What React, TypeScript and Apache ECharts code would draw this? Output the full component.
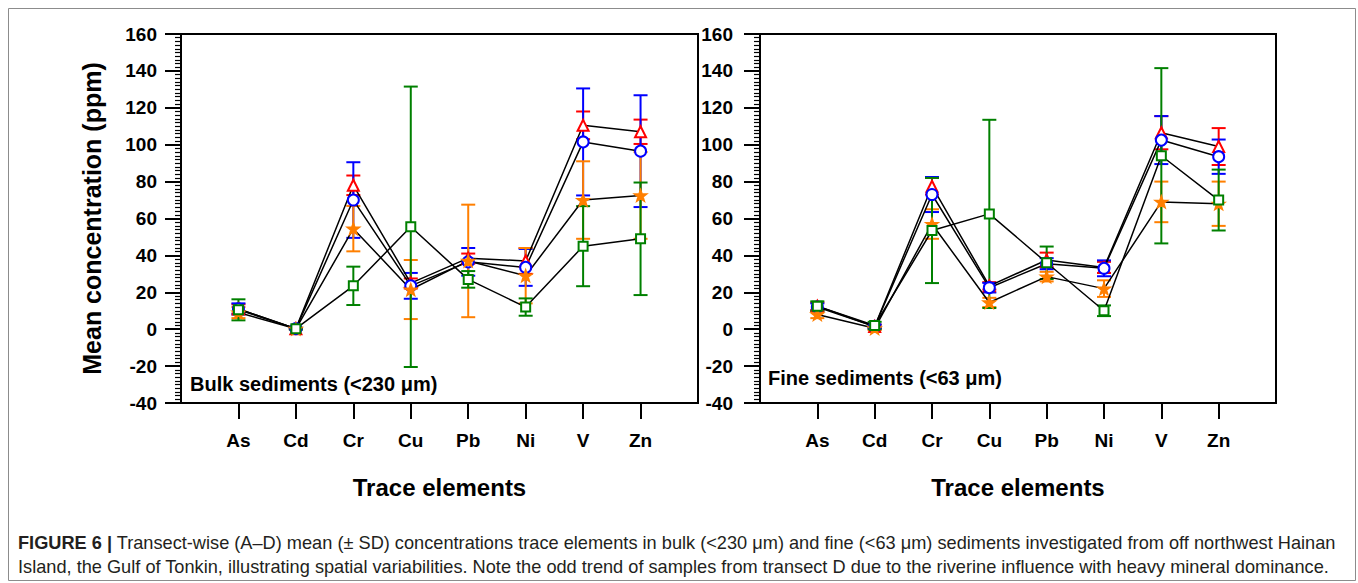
import React, { useEffect, useRef } from "react";
import * as echarts from "echarts";

// Trace elements on the x axis
const elements = ["As", "Cd", "Cr", "Cu", "Pb", "Ni", "V", "Zn"];
const yTicks = { min: -40, max: 160, step: 20 };

// Bulk sediments (<230 µm): mean and SD per transect (ppm)
const bulkMeanA = [11, 0.3, 78, 25, 38.5, 37, 110.5, 107];
const bulkSdA = [2.5, 0.3, 5.3, 2.5, 2.5, 7, 7.5, 6.6];
const bulkMeanB = [11, 0.3, 70, 23.5, 36.5, 33.5, 101.5, 96.5];
const bulkSdB = [3, 0.3, 20.5, 7, 7.5, 10, 29, 30.3];
const bulkMeanC = [9, 0.2, 54.5, 21.5, 37, 29, 70, 72.5];
const bulkSdC = [3, 0.3, 12.3, 16, 30.5, 15, 21, 23.5];
const bulkMeanD = [10.5, 0.3, 23.5, 55.5, 27, 12, 45, 49];
const bulkSdD = [5.7, 0.5, 10.4, 76, 4.5, 4.7, 21.7, 30.5];

// Fine sediments (<63 µm): mean and SD per transect (ppm)
const fineMeanA = [12.5, 1.5, 77.5, 23.5, 37.5, 33.5, 106.5, 99];
const fineSdA = [2, 1, 4.5, 2, 4, 3, 9, 10];
const fineMeanB = [12, 1.5, 73, 22.5, 35.5, 33, 102.5, 93.5];
const fineSdB = [2, 1, 9.5, 2.6, 3, 4.3, 13, 9.3];
const fineMeanC = [8, 0.5, 57, 14.5, 28.5, 22, 69, 68];
const fineSdC = [2, 1, 8, 2.5, 2.6, 4.5, 11, 12];
const fineMeanD = [12.5, 2, 53.5, 62.5, 36, 10, 94, 70];
const fineSdD = [2.6, 2, 28.5, 51, 8.8, 2.9, 47.5, 16.5];

const STAR =
  "path://M0,-10L2.35,-3.24L9.51,-3.09L3.8,1.24L5.88,8.09L0,4.2L-5.88,8.09L-3.8,1.24L-9.51,-3.09L-2.35,-3.24Z";

const transects = [
  { key: "A", color: "#FF0000", symbol: "emptyTriangle", size: 11 },
  { key: "B", color: "#0000FF", symbol: "emptyCircle", size: 11 },
  { key: "C", color: "#FF7F00", symbol: STAR, size: 12 },
  { key: "D", color: "#008000", symbol: "emptyRect", size: 9 },
];

const panels = [
  {
    label: "Bulk sediments (<230 μm)",
    means: [bulkMeanA, bulkMeanB, bulkMeanC, bulkMeanD],
    sds: [bulkSdA, bulkSdB, bulkSdC, bulkSdD],
  },
  {
    label: "Fine sediments (<63 μm)",
    means: [fineMeanA, fineMeanB, fineMeanC, fineMeanD],
    sds: [fineSdA, fineSdB, fineSdC, fineSdD],
  },
];

const FONT = "'Liberation Sans', Arial, Helvetica, sans-serif";
const positions = elements.map((_, i) => i + 1);

function errorBarRenderer(color: string) {
  return (params: any, api: any) => {
    const x = api.value(0);
    const lo = api.coord([x, api.value(1)]);
    const hi = api.coord([x, api.value(2)]);
    const hw = 7;
    const style = { stroke: color, lineWidth: 2 };
    return {
      type: "group",
      children: [
        { type: "line", shape: { x1: hi[0], y1: hi[1], x2: lo[0], y2: lo[1] }, style },
        { type: "line", shape: { x1: hi[0] - hw, y1: hi[1], x2: hi[0] + hw, y2: hi[1] }, style },
        { type: "line", shape: { x1: lo[0] - hw, y1: lo[1], x2: lo[0] + hw, y2: lo[1] }, style },
      ],
    };
  };
}

export default function App() {
  const ref = useRef<HTMLDivElement>(null);

  useEffect(() => {
    if (!ref.current) return;
    const chart = echarts.init(ref.current, null, { renderer: "svg" });

    const grids = [
      { left: 181, top: 34, width: 517, height: 369 },
      { left: 760, top: 34, width: 516, height: 369 },
    ].map((g) => ({ ...g, show: true, borderColor: "#000", borderWidth: 2, backgroundColor: "transparent" }));

    const xAxes = grids.map((_, gi) => ({
      type: "value",
      gridIndex: gi,
      min: 0,
      max: elements.length + 1,
      axisLine: { show: true, onZero: false, lineStyle: { color: "#000", width: 2 } },
      axisTick: { show: true, customValues: positions, length: 16, lineStyle: { color: "#000", width: 2 } },
      axisLabel: {
        customValues: positions,
        formatter: (v: number) => elements[Math.round(v) - 1] ?? "",
        margin: 28,
        fontFamily: FONT,
        fontWeight: "bold",
        fontSize: 19,
        color: "#000",
      },
      splitLine: { show: false },
      name: "Trace elements",
      nameLocation: "middle",
      nameGap: 72,
      nameTextStyle: { fontFamily: FONT, fontWeight: "bold", fontSize: 24, color: "#000" },
    }));

    const yAxes = grids.map((_, gi) => ({
      type: "value",
      gridIndex: gi,
      min: yTicks.min,
      max: yTicks.max,
      interval: yTicks.step,
      axisLine: { show: true, onZero: false, lineStyle: { color: "#000", width: 2 } },
      axisTick: { show: true, length: 16, lineStyle: { color: "#000", width: 2 } },
      minorTick: { show: true, splitNumber: 10, length: 6, lineStyle: { color: "#000", width: 1.2 } },
      axisLabel: {
        margin: gi === 0 ? 24 : 27,
        fontFamily: FONT,
        fontWeight: "bold",
        fontSize: 19,
        color: "#000",
      },
      splitLine: { show: false },
      minorSplitLine: { show: false },
      name: gi === 0 ? "Mean concentration (ppm)" : "",
      nameLocation: "middle",
      nameGap: 77,
      nameTextStyle: { fontFamily: FONT, fontWeight: "bold", fontSize: 25, color: "#000" },
    }));

    const series: any[] = [];
    panels.forEach((panel, pi) => {
      transects.forEach((t, ti) => {
        const means = panel.means[ti];
        const sds = panel.sds[ti];
        series.push({
          type: "custom",
          name: `${panel.label} ${t.key} SD`,
          xAxisIndex: pi,
          yAxisIndex: pi,
          z: 1,
          renderItem: errorBarRenderer(t.color),
          encode: { x: 0, y: [1, 2] },
          data: means.map((m, i) => [i + 1, m - sds[i], m + sds[i]]),
        });
      });
      transects.forEach((t, ti) => {
        const means = panel.means[ti];
        series.push({
          type: "line",
          name: `${panel.label} ${t.key}`,
          xAxisIndex: pi,
          yAxisIndex: pi,
          z: 3,
          symbol: t.symbol,
          symbolSize: t.size,
          symbolKeepAspect: true,
          showAllSymbol: true,
          lineStyle: { color: "#000", width: 1.5 },
          itemStyle: { color: t.color, borderColor: t.color, borderWidth: 1.6 },
          emphasis: { disabled: true },
          data: means.map((m, i) => [i + 1, m]),
        });
      });
    });

    const caption1 =
      "{b|FIGURE 6 |} Transect-wise (A–D) mean (± SD) concentrations trace elements in bulk (<230 μm) and fine (<63 μm) sediments investigated from off northwest Hainan";
    const caption2 =
      "Island, the Gulf of Tonkin, illustrating spatial variabilities. Note the odd trend of samples from transect D due to the riverine influence with heavy mineral dominance.";
    const CAPTION_SIZE = 18.2;

    chart.setOption({
      animation: false,
      backgroundColor: "#fff",
      grid: grids,
      xAxis: xAxes,
      yAxis: yAxes,
      series,
      graphic: [
        {
          type: "rect",
          z: -10,
          shape: { x: 8.5, y: 8.5, width: 1347, height: 572 },
          style: { fill: "none", stroke: "#8c8c8c", lineWidth: 1 },
        },
        {
          type: "text",
          x: 190,
          y: 384,
          style: {
            text: panels[0].label,
            fontFamily: FONT,
            fontWeight: "bold",
            fontSize: 20,
            fill: "#000",
            verticalAlign: "middle",
          },
        },
        {
          type: "text",
          x: 768,
          y: 378,
          style: {
            text: panels[1].label,
            fontFamily: FONT,
            fontWeight: "bold",
            fontSize: 20,
            fill: "#000",
            verticalAlign: "middle",
          },
        },
        {
          type: "text",
          x: 18,
          y: 543,
          style: {
            text: caption1,
            fontFamily: FONT,
            fontSize: CAPTION_SIZE,
            fill: "#231f20",
            verticalAlign: "middle",
            rich: {
              b: { fontFamily: FONT, fontSize: CAPTION_SIZE, fontWeight: "bold", fill: "#231f20" },
            },
          },
        },
        {
          type: "text",
          x: 18,
          y: 567,
          style: {
            text: caption2,
            fontFamily: FONT,
            fontSize: CAPTION_SIZE,
            fill: "#231f20",
            verticalAlign: "middle",
          },
        },
      ],
    });

    return () => chart.dispose();
  }, []);

  return (
    <div
      ref={ref}
      style={{ position: "fixed", left: 0, top: 0, width: 1358, height: 583, background: "#fff" }}
    />
  );
}
